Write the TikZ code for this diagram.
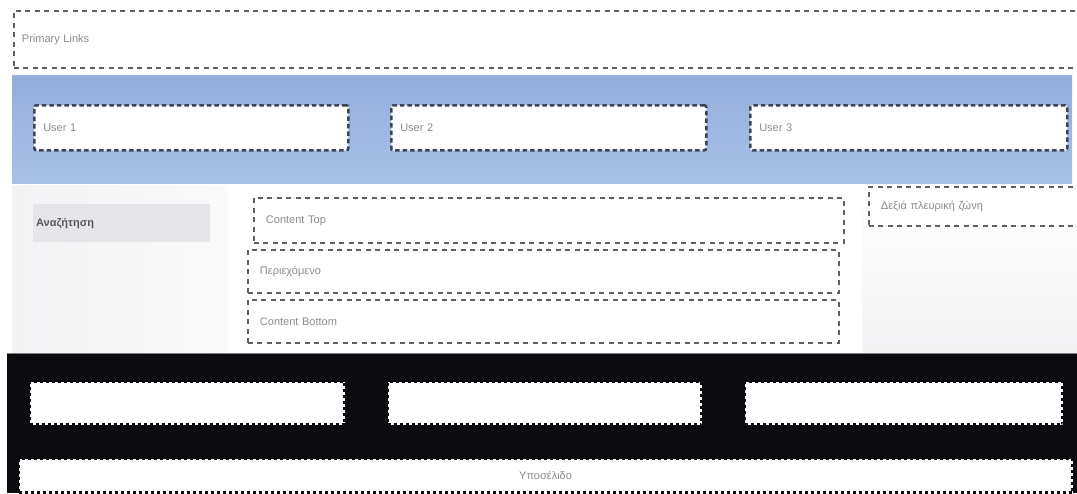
\documentclass[tikz,border=0pt]{standalone}
\usepackage{fontspec}
\setmainfont{Liberation Sans}
\usetikzlibrary{positioning}
\definecolor{dashgray}{HTML}{606060}
\definecolor{userdash}{HTML}{3E4656}
\definecolor{labelgray}{HTML}{8C8C8C}
\definecolor{bandtop}{HTML}{93ADDC}
\definecolor{bandbot}{HTML}{A9C1E8}
\definecolor{colgray}{HTML}{F3F3F5}
\definecolor{itemgray}{HTML}{E6E6EA}
\definecolor{footblack}{HTML}{0C0C10}
\begin{document}
\begin{tikzpicture}[x=1pt,y=-1pt,
  every node/.style={font=\fontsize{11}{13}\selectfont, text=labelgray},
  gbox/.style={draw=dashgray, line width=1.9pt, dash pattern=on 5pt off 4.5pt, fill=white,
    anchor=north west, inner xsep=8pt, align=left},
  ubox/.style={draw=userdash, line width=2.6pt, dash pattern=on 4.5pt off 3pt, fill=white,
    rounded corners=2pt, anchor=north west, inner xsep=9pt, align=left},
  fbox/.style={draw=footblack, line width=3.2pt, dash pattern=on 3pt off 3pt, fill=white,
    anchor=north west, inner sep=0pt, align=center}
]
\clip (0,0) rectangle (1077,493);
\fill[white] (0,0) rectangle (1077,493);
% primary links
\node[gbox, minimum height=57pt, text width=1080pt] (pl) at (13,10) {Primary Links};
% blue band
\shade[top color=bandtop, bottom color=bandbot] (12,75) rectangle (1072,183);
\node[ubox, minimum height=45pt, text width=296pt] (u1) at (33,104) {User 1};
\node[ubox, minimum height=45pt, text width=297pt] (u2) at (390,104) {User 2};
\node[ubox, minimum height=45pt, text width=299pt] (u3) at (749,104) {User 3};
% columns
\shade[left color=colgray, right color=white!60!colgray] (12,185) rectangle (228,352);
\shade[top color=white, bottom color=colgray] (862,185) rectangle (1077,352);
\node[anchor=north west, fill=itemgray, minimum width=177pt, minimum height=38pt,
  text width=171pt, inner xsep=3pt, align=left, text=black!65,
  font=\fontsize{11}{13}\selectfont\bfseries] (srch) at (33,204) {Αναζήτηση};
\node[gbox, minimum height=45pt, text width=566pt, inner xsep=12pt] (ct) at (253,197) {Content Top};
\node[gbox, minimum height=43pt, text width=567pt, inner xsep=12pt] (cm) at (247,249) {Περιεχόμενο};
\node[gbox, minimum height=43pt, text width=567pt, inner xsep=12pt] (cb) at (247,299) {Content Bottom};
\node[gbox, minimum height=39pt, text width=220pt, inner xsep=12pt] (rs) at (868,186) {Δεξιά πλευρική ζώνη};
% footer
\fill[footblack] (7,353) rectangle (1077,493);
\draw[gray, line width=1pt] (7,353) -- (1077,353);
\node[fbox, minimum width=315pt, minimum height=43pt] (f1) at (28,380) {};
\node[fbox, minimum width=314pt, minimum height=43pt] (f2) at (386,380) {};
\node[fbox, minimum width=318pt, minimum height=43pt] (f3) at (743,380) {};
\node[fbox, minimum width=1054pt, minimum height=34pt, text=labelgray] (ft) at (17,457) {Υποσέλιδο};
\end{tikzpicture}
\end{document}
